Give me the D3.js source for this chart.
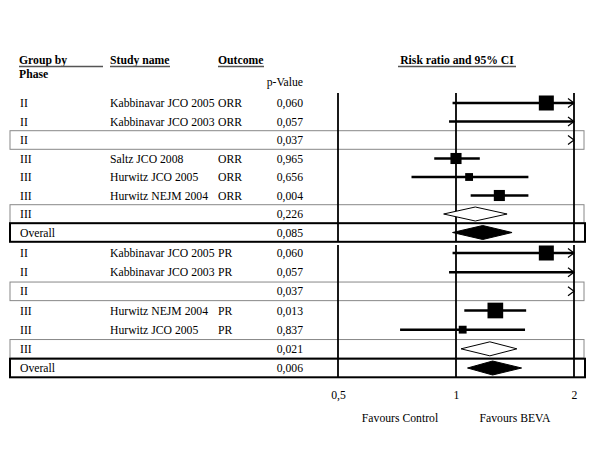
<!DOCTYPE html>
<html>
<head>
<meta charset="utf-8">
<script src="https://cdn.jsdelivr.net/npm/d3@7"></script>
<style>
  body { margin: 0; background: #fff; }
  text { font-family: "Liberation Serif", "Times New Roman", serif; font-size: 11.7px; fill: #000; }
</style>
</head>
<body>
<div id="chart"></div>
<script>
// ORR block
var orrPhase   = ["II", "II", "II", "III", "III", "III", "III", "Overall"];
var orrStudy   = ["Kabbinavar JCO 2005", "Kabbinavar JCO 2003", "", "Saltz JCO 2008", "Hurwitz JCO 2005", "Hurwitz NEJM 2004", "", ""];
var orrOutcome = ["ORR", "ORR", "", "ORR", "ORR", "ORR", "", ""];
var orrP       = ["0,060", "0,057", "0,037", "0,965", "0,656", "0,004", "0,226", "0,085"];
var orrRR      = [1.70, 2.60, 2.60, 1.00, 1.08, 1.29, 1.12, 1.17];
var orrLow     = [0.98, 0.96, 2.10, 0.88, 0.77, 1.09, 0.93, 0.98];
var orrHigh    = [2.95, 7.00, 3.30, 1.15, 1.53, 1.53, 1.35, 1.39];
var orrWeight  = [22, 10, 0, 12, 6, 12, 0, 0];
var orrKind    = ["study", "study", "sub", "study", "study", "study", "sub", "overall"];

// PR block
var prPhase   = ["II", "II", "II", "III", "III", "III", "Overall"];
var prStudy   = ["Kabbinavar JCO 2005", "Kabbinavar JCO 2003", "", "Hurwitz NEJM 2004", "Hurwitz JCO 2005", "", ""];
var prOutcome = ["PR", "PR", "", "PR", "PR", "", ""];
var prP       = ["0,060", "0,057", "0,037", "0,013", "0,837", "0,021", "0,006"];
var prRR      = [1.70, 2.60, 2.60, 1.26, 1.04, 1.22, 1.24];
var prLow     = [0.98, 0.96, 2.10, 1.05, 0.72, 1.03, 1.07];
var prHigh    = [2.95, 7.00, 3.30, 1.51, 1.50, 1.43, 1.47];
var prWeight  = [22, 10, 0, 24, 6, 0, 0];
var prKind    = ["study", "study", "sub", "study", "study", "sub", "overall"];

var tickValues = [0.5, 1, 2];
var tickLabels = ["0,5", "1", "2"];
var headers = ["Group by", "Study name", "Outcome", "Risk ratio and 95% CI"];

var width = 600, height = 450;

var svg = d3.select("#chart")
    .append("svg")
    .attr("width", width)
    .attr("height", height);

var x = d3.scaleLog().domain([0.5, 2]).range([338, 574]);
var size = d3.scaleSqrt().domain([0, 25]).range([0, 16]);

var yOrr = d3.scaleLinear().domain([0, 7]).range([103, 232.5]);
var yPr = d3.scaleLinear().domain([0, 6]).range([253, 368]);

function makeRows(phase, study, outcome, p, rr, low, high, w, kind) {
    return phase.map(function (d, i) {
        return { i: i, phase: d, study: study[i], outcome: outcome[i], p: p[i],
                 rr: rr[i], low: low[i], high: high[i], w: w[i], kind: kind[i] };
    });
}

var orrRows = makeRows(orrPhase, orrStudy, orrOutcome, orrP, orrRR, orrLow, orrHigh, orrWeight, orrKind);
var prRows = makeRows(prPhase, prStudy, prOutcome, prP, prRR, prLow, prHigh, prWeight, prKind);

// clip for the plot area
svg.append("clipPath").attr("id", "plotclip")
    .append("rect")
    .attr("x", x(0.5)).attr("y", 0)
    .attr("width", x(2) - x(0.5)).attr("height", height);

// Headers
var headX = [19, 110, 218, 457];
headers.forEach(function (h, i) {
    svg.append("text")
        .attr("x", headX[i])
        .attr("y", 64)
        .attr("font-weight", "bold")
        .attr("text-anchor", i === 3 ? "middle" : "start")
        .text(h);
});
var underlines = [[19, 103], [110, 170], [218, 264], [398, 516]];
underlines.forEach(function (u) {
    svg.append("line")
        .attr("x1", u[0]).attr("x2", u[1])
        .attr("y1", 66.5).attr("y2", 66.5)
        .attr("stroke", "#555").attr("stroke-width", 1.5);
});
svg.append("text").attr("x", 19).attr("y", 78).attr("font-weight", "bold").text("Phase");
svg.append("text").attr("x", 303).attr("y", 86).attr("text-anchor", "end").text("p-Value");

function drawBlock(rows, y, top, bottom) {
    var g = svg.append("g");

    // boxes for subgroup and overall rows
    g.selectAll(".box")
        .data(rows.filter(function (d) { return d.kind !== "study"; }))
        .enter()
        .append("rect")
        .attr("x", 10)
        .attr("width", function (d) { return d.kind === "overall" ? 575 : 574; })
        .attr("y", function (d) { return y(d.i) - 9.3; })
        .attr("height", 18.6)
        .attr("fill", "none")
        .attr("stroke", function (d) { return d.kind === "overall" ? "#000" : "#888"; })
        .attr("stroke-width", function (d) { return d.kind === "overall" ? 2 : 1; });

    // reference lines
    g.selectAll(".vline")
        .data(tickValues)
        .enter()
        .append("line")
        .attr("x1", function (d) { return x(d); })
        .attr("x2", function (d) { return x(d); })
        .attr("y1", top)
        .attr("y2", bottom)
        .attr("stroke", "#000")
        .attr("stroke-width", 1.8);

    // text columns
    g.selectAll(".phase").data(rows).enter().append("text")
        .attr("x", 20).attr("y", function (d) { return y(d.i) + 4; })
        .text(function (d) { return d.phase; });
    g.selectAll(".study").data(rows).enter().append("text")
        .attr("x", 110).attr("y", function (d) { return y(d.i) + 4; })
        .text(function (d) { return d.study; });
    g.selectAll(".outcome").data(rows).enter().append("text")
        .attr("x", 218).attr("y", function (d) { return y(d.i) + 4; })
        .text(function (d) { return d.outcome; });
    g.selectAll(".pval").data(rows).enter().append("text")
        .attr("x", 303).attr("y", function (d) { return y(d.i) + 4; })
        .attr("text-anchor", "end")
        .text(function (d) { return d.p; });

    var marks = g.append("g").attr("clip-path", "url(#plotclip)");
    var lo = x.domain()[0], hi = x.domain()[1];

    var studies = rows.filter(function (d) { return d.kind === "study"; });
    marks.selectAll(".ci").data(studies).enter().append("line")
        .attr("x1", function (d) { return x(Math.max(d.low, lo)); })
        .attr("x2", function (d) { return x(Math.min(d.high, hi)); })
        .attr("y1", function (d) { return y(d.i); })
        .attr("y2", function (d) { return y(d.i); })
        .attr("stroke", "#000")
        .attr("stroke-width", 2.5);
    marks.selectAll(".sq").data(studies).enter().append("rect")
        .attr("x", function (d) { return x(d.rr) - size(d.w) / 2; })
        .attr("y", function (d) { return y(d.i) - size(d.w) / 2; })
        .attr("width", function (d) { return size(d.w); })
        .attr("height", function (d) { return size(d.w); })
        .attr("fill", "#000");

    var pooled = rows.filter(function (d) { return d.kind !== "study"; });
    marks.selectAll(".dia").data(pooled).enter().append("path")
        .attr("d", function (d) {
            var cy = y(d.i);
            return "M" + x(d.low) + "," + cy +
                   "L" + x(d.rr) + "," + (cy - 7) +
                   "L" + x(d.high) + "," + cy +
                   "L" + x(d.rr) + "," + (cy + 7) + "Z";
        })
        .attr("fill", function (d) { return d.kind === "overall" ? "#000" : "#fff"; })
        .attr("stroke", "#000")
        .attr("stroke-width", 1);

    // arrows where the interval runs past the right edge
    g.selectAll(".arrow")
        .data(rows.filter(function (d) { return d.high > hi; }))
        .enter().append("path")
        .attr("d", function (d) {
            var ax = x(hi), cy = y(d.i);
            return "M" + (ax - 6) + "," + (cy - 4.5) + "L" + ax + "," + cy + "L" + (ax - 6) + "," + (cy + 4.5);
        })
        .attr("fill", "none")
        .attr("stroke", "#000")
        .attr("stroke-width", 1.2);
}

drawBlock(orrRows, yOrr, 93, 241.7);
drawBlock(prRows, yPr, 245, 378);

// axis labels
var axis = d3.axisBottom(x)
    .tickValues(tickValues)
    .tickSize(0)
    .tickPadding(3)
    .tickFormat(function (d, i) { return tickLabels[i]; });

var ax = svg.append("g")
    .attr("transform", "translate(0,387.5)")
    .call(axis);
ax.select(".domain").remove();
ax.selectAll("text")
    .attr("font-family", "Liberation Serif")
    .attr("font-size", "11.7px")
    .attr("fill", "#000");

svg.append("text").attr("x", 400).attr("y", 422).attr("text-anchor", "middle").text("Favours Control");
svg.append("text").attr("x", 515).attr("y", 422).attr("text-anchor", "middle").text("Favours BEVA");
</script>
</body>
</html>
